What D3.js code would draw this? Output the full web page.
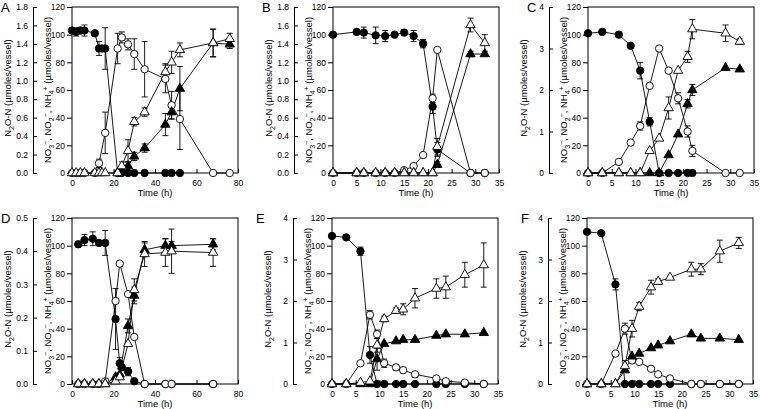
<!DOCTYPE html>
<html lang="en">
<head>
<meta charset="UTF-8">
<title>Nitrogen species time courses</title>
<script src="https://d3js.org/d3.v7.min.js"></script>
<style>
  body { margin: 0; background: #fff; }
  svg { display: block; font-family: "Liberation Sans", Arial, sans-serif; }
  .tick text { font-size: 8.5px; fill: #000; }
  .axis-title { font-size: 9.5px; }
  .letter { font-size: 13px; }
</style>
</head>
<body>
<svg width="760" height="409"></svg>
<script>
// ---- panel A ----
const aTime = [0, 2, 4, 6, 11, 13, 14.5, 16, 22, 24, 27, 30, 35, 45, 48, 52, 68, 76];
const aNO3 = [103, 102, 103, 103, 101, 90, 90, 90, 0, 0, 0, 0, 0, 0, 0, 0, null, null];
const aNO3Err = [2, 3, 2, 4, 0, 5, 0, 15, 0, 0, 0, 0, 0, 0, 0, 0, 0, 0];
const aNO2 = [0, 0, 0, 0, 0, 7, null, 29, 90, 98, 93, 86, 75, 68, 49, 39, 0, 0];
const aNO2Err = [0, 0, 0, 0, 0, 3, 0, 15, 11, 4, 4, 11, 20, 10, 10, 22, 0, 0];
const aN2O = [0, 0, 0, 0, 0, 0, 0, 0, 0, 5, 16, 37, 44, 73, 80, 89, 94, 97];
const aN2OErr = [0, 0, 0, 0, 0, 0, 0, 0, 0, 3, 8, 3, 3, 6, 8, 5, 10, 4];
const aNH4 = [null, null, null, null, null, null, null, null, 0, 2, 5, 12, 18, 35, 44, 61, 94, 93];
const aNH4Err = [0, 0, 0, 0, 0, 0, 0, 0, 0, 0, 3, 3, 3, 8, 5, 16, 10, 3];

// ---- panel B ----
const bTime = [0, 5, 6.5, 9, 11, 13, 15, 17, 19, 21, 22, 29, 32];
const bNO3 = [100, 102, 101.5, 99.5, 99, 100, 101.5, 99, 93.5, 48, 17, 0, 0];
const bNO3Err = [0, 0, 4, 6, 4, 0, 2, 4, 3, 5, 5, 0, 0];
const bNO2 = [0, 0, 0, 0, 0, 0, 2, 5, 13, 54, 89, 0, 0];
const bNO2Err = [0, 0, 0, 0, 0, 0, 0, 0, 0, 3, 0, 0, 0];
const bN2O = [0, 0, 0, 0, 0, 0, 0, 0, 0, 0, 19, 107, 94];
const bN2OErr = [0, 0, 0, 0, 0, 0, 0, 0, 0, 0, 6, 5, 6];
const bNH4 = [0, 0, 0, 0, 0, 0, 0, 0, 0, 0, 6, 86, 86];
const bNH4Err = [0, 0, 0, 0, 0, 0, 0, 0, 0, 0, 2, 2, 0];

// ---- panel C ----
const cTime = [0, 3, 6.5, 9, 11, 13, 15, 17, 19, 21, 22, 29, 32];
const cNO3 = [101, 102, 100, 92, 74, 37, 0, 0, 0, 0, 0, null, null];
const cNO3Err = [0, 0, 2, 0, 6, 3, 0, 0, 0, 0, 0, 0, 0];
const cNO2 = [0, 0, 8, 22, 34, 63, 90, 74, 54, 30, 16, 0, 0];
const cNO2Err = [0, 0, 0, 0, 3, 0, 0, 0, 4, 4, 4, 0, 0];
const cN2O = [0, 0, 0, 0, 0, 16, 25, 47, 74, 84, 104, 101, 95];
const cN2OErr = [0, 0, 0, 0, 0, 0, 0, 8, 0, 4, 7, 6, 2];
const cNH4 = [0, 0, 0, 0, 0, 0, 0, 13, 28, 50, 60, 76, 75];
const cNH4Err = [0, 0, 0, 0, 0, 0, 0, 0, 0, 3, 4, 0, 0];

// ---- panel D ----
const dTime = [3, 6, 10, 13, 16, 21, 23, 24, 27, 30, 35, 45, 48, 68];
const dNO3 = [101, 104, 105, 102, 102, 47, 15, 12, 9, 2, 0, 0, 0, 0];
const dNO3Err = [2, 4, 5, 0, 9, 22, 4, 0, 3, 0, 0, 0, 0, 0];
const dNO2 = [0, 0, 0, 0, 2, 60, 87, null, 65, 34, 0, 0, 0, 0];
const dNO2Err = [0, 0, 0, 0, 0, 0, 0, 0, 0, 0, 0, 0, 0, 0];
const dN2O = [0, 0, 0, 0, 0, 2, 5, null, 29, 68, 94, 95, 96, 95];
const dN2OErr = [0, 0, 0, 0, 0, 0, 0, 0, 0, 8, 9, 10, 16, 10];
const dNH4 = [0, 0, 0, 0, 0, 5, 7, null, 42, 64, 97, 100, 100, 101];
const dNH4Err = [0, 0, 0, 0, 0, 0, 0, 0, 5, 6, 5, 5, 3, 4];

// ---- panel E ----
const eTime = [0, 3, 6, 8, 9.5, 11, 13.5, 15, 17.5, 22, 24, 28, 32];
const eNO3 = [107, 106, 96, 21, 0, 0, 0, 0, 0, 0, 0, 0, 0];
const eNO3Err = [0, 0, 3, 6, 0, 0, 0, 0, 0, 0, 0, 0, 0];
const eNO2 = [0, 0, 15, 50, 36, 15, 12, 10, 7, 4, 2, 1, 0];
const eNO2Err = [0, 0, 0, 3, 3, 3, 2, 2, 2, 0, 0, 0, 0];
const eN2O = [0, 0, 1, 2, 28, 47, 53, 54, 62, 69, 70, 79, 86];
const eN2OErr = [0, 0, 0, 0, 5, 2, 2, 4, 7, 7, 8, 9, 16];
const eNH4 = [0, 0, 0, 0, 18, 29, 31, 32, 32, 35, 36, 36, 37];
const eNH4Err = [0, 0, 0, 0, 8, 0, 0, 0, 0, 0, 0, 0, 0];

// ---- panel F ----
const fTime = [0, 3, 6, 8, 9.5, 11, 13.5, 15, 17.5, 22, 24, 28, 32];
const fNO3 = [110, 109, 72, 0, 0, 0, 0, 0, 0, 0, 0, 0, 0];
const fNO3Err = [0, 0, 4, 0, 0, 0, 0, 0, 0, 0, 0, 0, 0];
const fNO2 = [0, 0, 22, 40, 17, 16, 11, 7, 4, 0, 0, 0, 0];
const fNO2Err = [0, 0, 0, 4, 0, 0, 0, 0, 0, 0, 0, 0, 0];
const fN2O = [0, 0, 0, 13, 40, 56, 70, 74, 77, 83, 83, 96, 102];
const fN2OErr = [0, 0, 0, 4, 6, 3, 5, 2, 0, 5, 4, 8, 4];
const fNH4 = [0, 0, 0, 10, 20, 22, 26, 28, 31, 36, 33, 33, 32];
const fNH4Err = [0, 0, 0, 0, 0, 0, 0, 0, 0, 0, 0, 0, 0];

// axis ticks
const xTicksLong = [0, 20, 40, 60, 80];
const xTicksShort = [0, 5, 10, 15, 20, 25, 30, 35];
const innerTicks = [0, 20, 40, 60, 80, 100, 120];
const outerTicksAB = [0, 0.2, 0.4, 0.6, 0.8, 1.0, 1.2, 1.4, 1.6, 1.8];
const outerTicksD = [0, 0.1, 0.2, 0.3, 0.4, 0.5];
const outerTicksCEF = [0, 1, 2, 3, 4];

const W = 166, H = 166;
const svg = d3.select("svg");

function drawPanel(p) {
  const g = svg.append("g").attr("transform", `translate(${p.left},${p.top})`);

  const x = d3.scaleLinear().domain([0, p.xMax]).range([0, W]);
  const y = d3.scaleLinear().domain([0, 120]).range([H, 0]);
  const yOut = d3.scaleLinear().domain([0, d3.max(p.outerTicks)]).range([H, 0]);

  // x axis, ticks inward
  g.append("g")
    .attr("transform", `translate(0,${H})`)
    .call(d3.axisBottom(x).tickValues(p.xTicks).tickSizeInner(-4).tickSizeOuter(0).tickPadding(6.5))
    .call(a => a.select(".domain").remove());

  // inner y axis
  g.append("g")
    .call(d3.axisLeft(y).tickValues(innerTicks).tickSizeInner(5).tickSizeOuter(0).tickPadding(2))
    .call(a => a.select(".domain").remove());

  // outer y axis (N2O-N)
  g.append("g")
    .attr("transform", "translate(-39,0)")
    .call(d3.axisLeft(yOut).tickValues(p.outerTicks).tickFormat(d3.format(p.outerFmt))
      .tickSizeInner(-4).tickSizeOuter(0).tickPadding(5));

  g.selectAll(".tick line").attr("stroke", "#000");
  g.selectAll(".domain").attr("stroke", "#000");

  g.append("rect")
    .attr("width", W).attr("height", H)
    .attr("fill", "none").attr("stroke", "#000").attr("stroke-width", 1);

  // axis titles
  g.append("text").attr("class", "axis-title")
    .attr("x", W / 2).attr("y", H + 23).attr("text-anchor", "middle")
    .text("Time (h)");

  const t1 = g.append("text").attr("class", "axis-title")
    .attr("transform", `translate(-61,${H / 2 - 2}) rotate(-90)`)
    .attr("text-anchor", "middle");
  t1.append("tspan").text("N");
  t1.append("tspan").attr("dy", 2.5).attr("font-size", "7px").text("2");
  t1.append("tspan").attr("dy", -2.5).text("O-N (µmoles/vessel)");

  const t2 = g.append("text").attr("class", "axis-title")
    .attr("transform", `translate(-21,${H / 2}) rotate(-90)`)
    .attr("text-anchor", "middle");
  [["NO", "3", "\u2212", ", "], ["NO", "2", "\u2212", ", "], ["NH", "4", "+", " (µmoles/vessel)"]]
    .forEach(([base, sub, sup, after]) => {
      t2.append("tspan").text(base);
      t2.append("tspan").attr("dy", 2.5).attr("font-size", "7px").text(sub);
      t2.append("tspan").attr("dy", -6).attr("font-size", "7px").text(sup);
      t2.append("tspan").attr("dy", 3.5).text(after);
    });

  // series
  const series = [
    { vals: p.no3, errs: p.no3Err, shape: "circle", fill: "#000" },
    { vals: p.no2, errs: p.no2Err, shape: "circle", fill: "#fff" },
    { vals: p.nh4, errs: p.nh4Err, shape: "triangle", fill: "#000" },
    { vals: p.n2o, errs: p.n2oErr, shape: "triangle", fill: "#fff" }
  ].map(s => ({
    ...s,
    pts: p.time.map((t, i) => ({ t, v: s.vals[i], e: s.errs[i] })).filter(d => d.v != null)
  }));

  const line = d3.line().x(d => x(d.t)).y(d => y(d.v));
  series.forEach(s => {
    g.append("path").datum(s.pts)
      .attr("d", line).attr("fill", "none").attr("stroke", "#000").attr("stroke-width", 0.9);
  });

  series.forEach(s => {
    const eb = s.pts.filter(d => d.e > 0);
    const bars = g.append("g").attr("stroke", "#000").attr("stroke-width", 0.9);
    bars.selectAll(null).data(eb).join("line")
      .attr("x1", d => x(d.t)).attr("x2", d => x(d.t))
      .attr("y1", d => y(d.v - d.e)).attr("y2", d => y(d.v + d.e));
    bars.selectAll(null).data(eb.flatMap(d => [d.v - d.e, d.v + d.e].map(v => ({ t: d.t, v })))).join("line")
      .attr("x1", d => x(d.t) - 3).attr("x2", d => x(d.t) + 3)
      .attr("y1", d => y(d.v)).attr("y2", d => y(d.v));
  });

  series.forEach(s => {
    if (s.shape === "circle") {
      g.selectAll(null).data(s.pts).join("circle")
        .attr("cx", d => x(d.t)).attr("cy", d => y(d.v)).attr("r", 3.7)
        .attr("fill", s.fill).attr("stroke", "#000").attr("stroke-width", 0.9);
    } else {
      g.selectAll(null).data(s.pts).join("path")
        .attr("d", d3.symbol(d3.symbolTriangle, 38))
        .attr("transform", d => `translate(${x(d.t)},${y(d.v)})`)
        .attr("fill", s.fill).attr("stroke", "#000").attr("stroke-width", 0.9);
    }
  });

  svg.append("text").attr("class", "letter")
    .attr("x", p.letterX).attr("y", p.letterY).text(p.letter);
}

const panels = [
  { letter: "A", left: 72, top: 7, letterX: 1, letterY: 12, xMax: 80, xTicks: xTicksLong,
    outerTicks: outerTicksAB, outerFmt: ".1f", time: aTime,
    no3: aNO3, no3Err: aNO3Err, no2: aNO2, no2Err: aNO2Err, n2o: aN2O, n2oErr: aN2OErr, nh4: aNH4, nh4Err: aNH4Err },
  { letter: "B", left: 333, top: 7, letterX: 262, letterY: 12, xMax: 35, xTicks: xTicksShort,
    outerTicks: outerTicksAB, outerFmt: ".1f", time: bTime,
    no3: bNO3, no3Err: bNO3Err, no2: bNO2, no2Err: bNO2Err, n2o: bN2O, n2oErr: bN2OErr, nh4: bNH4, nh4Err: bNH4Err },
  { letter: "C", left: 588, top: 7, letterX: 527, letterY: 12, xMax: 35, xTicks: xTicksShort,
    outerTicks: outerTicksCEF, outerFmt: "d", time: cTime,
    no3: cNO3, no3Err: cNO3Err, no2: cNO2, no2Err: cNO2Err, n2o: cN2O, n2oErr: cN2OErr, nh4: cNH4, nh4Err: cNH4Err },
  { letter: "D", left: 72, top: 218, letterX: 1, letterY: 223, xMax: 80, xTicks: xTicksLong,
    outerTicks: outerTicksD, outerFmt: ".1f", time: dTime,
    no3: dNO3, no3Err: dNO3Err, no2: dNO2, no2Err: dNO2Err, n2o: dN2O, n2oErr: dN2OErr, nh4: dNH4, nh4Err: dNH4Err },
  { letter: "E", left: 332, top: 218, letterX: 256, letterY: 223, xMax: 35, xTicks: xTicksShort,
    outerTicks: outerTicksCEF, outerFmt: "d", time: eTime,
    no3: eNO3, no3Err: eNO3Err, no2: eNO2, no2Err: eNO2Err, n2o: eN2O, n2oErr: eN2OErr, nh4: eNH4, nh4Err: eNH4Err },
  { letter: "F", left: 587, top: 218, letterX: 521, letterY: 223, xMax: 35, xTicks: xTicksShort,
    outerTicks: outerTicksCEF, outerFmt: "d", time: fTime,
    no3: fNO3, no3Err: fNO3Err, no2: fNO2, no2Err: fNO2Err, n2o: fN2O, n2oErr: fN2OErr, nh4: fNH4, nh4Err: fNH4Err }
];

panels.forEach(drawPanel);
</script>
</body>
</html>
